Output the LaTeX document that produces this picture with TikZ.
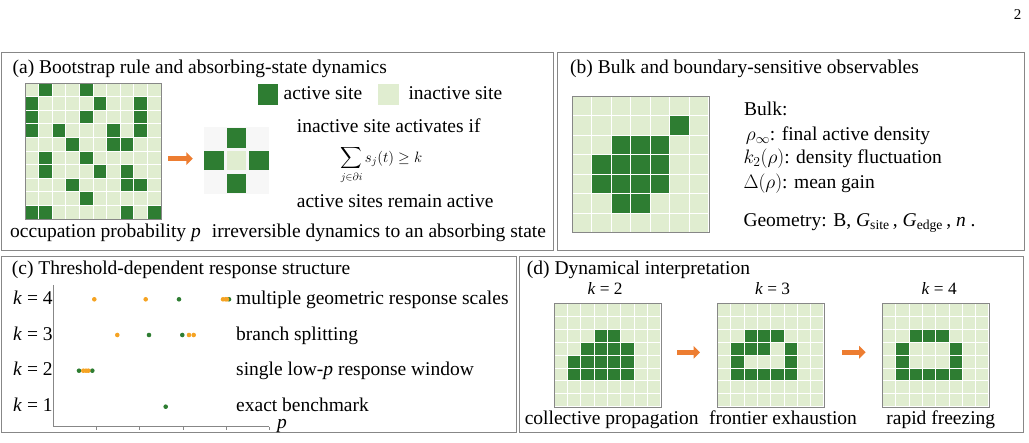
\RequirePackage{fix-cm}
\documentclass[tikz,border=0pt]{standalone}
\usepackage{amsmath,amssymb}
\usepackage{fontspec}
\setmainfont{Liberation Serif}
\usepackage{xcolor}
\usepackage{tikz}
\usetikzlibrary{positioning}
\usetikzlibrary{arrows.meta}
\definecolor{actgreen}{RGB}{46,125,50}
\definecolor{inactgreen}{RGB}{224,237,208}
\definecolor{framegray}{RGB}{135,135,135}
\definecolor{floworange}{RGB}{237,125,49}
\definecolor{dotorange}{RGB}{245,163,35}
\tikzstyle{act}=[fill=actgreen]
\tikzstyle{inact}=[fill=inactgreen]
\tikzstyle{actcell}=[act, inner sep=0pt, minimum size=19.6pt]
\tikzstyle{inactcell}=[inact, inner sep=0pt, minimum size=19.6pt]
\tikzstyle{gridline}=[draw=white, line width=0.9pt]
\tikzstyle{gridframe}=[draw=framegray, line width=0.9pt]
\tikzstyle{panel}=[draw=framegray, line width=1pt]
\tikzstyle{plotaxis}=[draw=framegray, line width=0.9pt]
\tikzstyle{flow}=[draw=floworange, line width=5.5pt, -{Triangle[length=6.5pt,width=12.5pt]}]
\tikzstyle{txt}=[inner sep=0pt, anchor=base west]
\tikzstyle{ctxt}=[inner sep=0pt, anchor=base]
\tikzstyle{odot}=[fill=dotorange]
\tikzstyle{gdot}=[fill=actgreen]
% name, x, y, cells per side, cell width, cell height, active cells
\newcommand{\sitegrid}[7]{%
  \node[inact, inner sep=0pt, minimum width={#4*#5}, minimum height={#4*#6}, anchor=north west] (#1) at (#2,#3) {};
  \foreach \cx/\cy in {#7}
    \fill[act] ({#2+\cx*#5},{#3+\cy*#6}) rectangle ++(#5,#6);
  \foreach \i in {1,...,#4} {
    \draw[gridline] ({#2+\i*#5},#3) -- ++(0,{#4*#6});
    \draw[gridline] (#2,{#3+\i*#6}) -- ++({#4*#5},0);
  }
  \draw[gridframe] (#1.north west) rectangle (#1.south east);
}

\begin{document}
\begin{tikzpicture}[x=1pt,y=-1pt,font=\fontsize{19.5}{23}\selectfont]
\useasboundingbox (0,0) rectangle (1029,443);
\node[ctxt, font=\fontsize{15}{18}\selectfont] (pagenum) at (1017.5,20) {2};
\draw[panel] (1,52.5) rectangle (553,251);
\draw[panel] (557,52.5) rectangle (1024,251);
\draw[panel] (1,256.5) rectangle (516,432.5);
\draw[panel] (519.5,256.5) rectangle (1023.5,432.5);

% (a)
\node[txt] (titleA) at (12.5,73.3) {(a) Bootstrap rule and absorbing-state dynamics};
\sitegrid{gridA}{25}{83}{10}{13.6}{13.6}{1/0,4/0,0/1,5/1,8/1,0/2,4/2,8/2,0/3,2/3,6/3,8/3,3/4,6/4,7/4,1/5,4/5,1/6,5/6,7/6,3/7,7/7,8/7,4/8,0/9,1/9,7/9,9/9}
\node[actcell, minimum size=20.6pt] (legact) at (268,94.7) {};
\node[txt] (legacttxt) at (283.5,100) {active site};
\node[inactcell, minimum size=20.6pt] (leginact) at (388.3,94.7) {};
\node[txt] (leginacttxt) at (408.3,100) {inactive site};
\fill[black!3] (204,127) rectangle (269,194);
\node[inactcell] (site) at (236.5,160.7) {};
\node[actcell, above=2.7pt of site] (nbN) {};
\node[actcell, below=2.7pt of site] (nbS) {};
\node[actcell, left=2.7pt of site] (nbW) {};
\node[actcell, right=2.7pt of site] (nbE) {};
\draw[flow, shorten <=7pt, shorten >=11pt] ([yshift=2pt]gridA.east |- nbW.west) -- ([yshift=2pt]nbW.west);
\node[txt] (ruletxt) at (296.7,133) {inactive site activates if};
\node[ctxt, font=\fontsize{15}{18}\selectfont] (rulesum) at (381.5,162.2) {$\displaystyle\sum_{j\in\partial i} s_j(t) \ge k$};
\node[txt] (keeptxt) at (296.7,207.3) {active sites remain active};
\node[txt] (occtxt) at (10,237.3) {occupation probability \textit{p}};
\node[txt] (irrtxt) at (211.7,237.7) {irreversible dynamics to an absorbing state};

% (b)
\node[txt] (titleB) at (570,74) {(b) Bulk and boundary-sensitive observables};
\sitegrid{gridB}{572}{96}{7}{19.55}{19.5}{5/1,2/2,3/2,4/2,1/3,2/3,3/3,4/3,1/4,2/4,3/4,4/4,2/5,3/5}
\node[txt] (bulk) at (744,115.7) {Bulk:};
\node[txt] (rhoinf) at (745.7,140.7) {$\rho_\infty$: final active density};
\node[txt] (ktwo) at (743.3,163.3) {$k_2(\rho)$: density fluctuation};
\node[txt] (gain) at (743.3,188.3) {$\Delta(\rho)$: mean gain};
\node[txt] (geom) at (743.3,226.7) {Geometry: B, \textit{G}\textsubscript{site}\,, \textit{G}\textsubscript{edge}\,, \textit{n}\ .};

% (c)
\node[txt] (titleC) at (11.7,275) {(c) Threshold-dependent response structure};
\node[txt] (kc4) at (13,305) {\textit{k} = 4};
\node[txt] (kc3) at (13,340.7) {\textit{k} = 3};
\node[txt] (kc2) at (13,376) {\textit{k} = 2};
\node[txt] (kc1) at (13,411.7) {\textit{k} = 1};
\coordinate (origin) at (53.3,426.7);
\draw[plotaxis] (53.3,285) -- (origin) -- (269.3,426.7);
\foreach \t in {96.6,139.9,183.2,226.5,269.3}
  \draw[plotaxis] (\t,426.7) -- ++(0,3);
\node[txt] (plab) at (277,429) {\textit{p}};
\foreach \px in {179,229} \fill[gdot] (\px,299.3) circle (2.3pt);
\foreach \px in {94.3,145.7,223,225.5,227} \fill[odot] (\px,299.3) circle (2.3pt);
\foreach \px in {149,182.3} \fill[gdot] (\px,335) circle (2.3pt);
\foreach \px in {117.3,189,193.7} \fill[odot] (\px,335) circle (2.3pt);
\foreach \px in {79,92.3} \fill[gdot] (\px,370.7) circle (2.3pt);
\foreach \px in {83.3,86,88.3} \fill[odot] (\px,370.7) circle (2.3pt);
\fill[gdot] (165.7,406.7) circle (2.3pt);
\node[txt] (multi) at (236,305) {multiple geometric response scales};
\node[txt] (branch) at (236,340.7) {branch splitting};
\node[txt] (window) at (236,376) {single low-\textit{p} response window};
\node[txt] (exact) at (236,411.7) {exact benchmark};

% (d)
\node[txt] (titleD) at (526.7,275) {(d) Dynamical interpretation};
\sitegrid{gridD1}{554.3}{303.5}{8}{13.3}{12.9}{3/2,4/2,2/3,3/3,4/3,5/3,1/4,2/4,3/4,4/4,5/4,1/5,2/5,3/5,4/5,5/5}
\sitegrid{gridD2}{717.5}{303.5}{8}{13.3}{12.9}{2/2,3/2,4/2,1/3,2/3,3/3,5/3,1/4,5/4,1/5,2/5,3/5,4/5,5/5}
\sitegrid{gridD3}{882.5}{303.5}{8}{13.3}{12.9}{2/2,3/2,4/2,1/3,5/3,1/4,5/4,1/5,2/5,3/5,4/5,5/5}
\node[ctxt, font=\fontsize{17.3}{20}\selectfont] (kd1) at (605,295) {\textit{k} = 2};
\node[ctxt, font=\fontsize{17.3}{20}\selectfont] (kd2) at (772.5,295) {\textit{k} = 3};
\node[ctxt, font=\fontsize{17.3}{20}\selectfont] (kd3) at (939.2,295) {\textit{k} = 4};
\draw[flow, shorten <=16pt, shorten >=17.5pt] ([yshift=3pt]gridD1.east) -- ([yshift=3pt]gridD2.west);
\draw[flow, shorten <=17.8pt, shorten >=16.8pt] ([yshift=3pt]gridD2.east) -- ([yshift=3pt]gridD3.west);
\node[ctxt] (capD1) at (611.7,425) {collective propagation};
\node[ctxt] (capD2) at (783,425) {frontier exhaustion};
\node[ctxt] (capD3) at (940.8,425) {rapid freezing};
\end{tikzpicture}
\end{document}
